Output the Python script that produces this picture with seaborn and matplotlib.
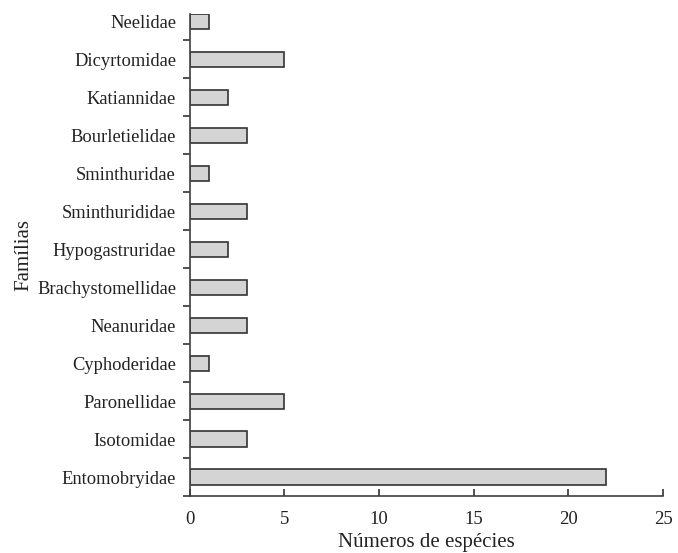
import matplotlib
matplotlib.use("Agg")
import matplotlib.pyplot as plt
import seaborn as sns
import pandas as pd
import numpy as np

familias = [
    "Neelidae", "Dicyrtomidae", "Katiannidae", "Bourletielidae",
    "Sminthuridae", "Sminthurididae", "Hypogastruridae", "Brachystomellidae",
    "Neanuridae", "Cyphoderidae", "Paronellidae", "Isotomidae", "Entomobryidae",
]
especies = [1, 5, 2, 3, 1, 3, 2, 3, 3, 1, 5, 3, 22]

df = pd.DataFrame({"Famílias": familias, "Números de espécies": especies})

sns.set_style("ticks")
plt.rcParams["font.family"] = ["Liberation Serif", "DejaVu Serif"]

fig = plt.figure(figsize=(6.78, 5.53), dpi=100)
ax = fig.add_axes([0.280, 0.103, 0.698, 0.872])

sns.barplot(data=df, y="Famílias", x="Números de espécies", orient="h",
            color="#d4d4d4", edgecolor="#333333", linewidth=1.2,
            width=0.4, saturation=1, ax=ax)

ax.set_xlim(0, 25)
ax.set_ylim(12.5, -0.2)
ax.set_xticks(np.arange(0, 26, 5))
ax.set_yticks(np.arange(len(familias)))
ax.set_yticklabels(familias)
ax.set_yticks(np.arange(len(familias)) + 0.5, minor=True)

ax.tick_params(axis="y", which="major", length=0, labelsize=13.3, pad=10, colors="#222222")
ax.tick_params(axis="y", which="minor", length=5, width=1.2, direction="out", color="#333333")
ax.tick_params(axis="x", which="major", length=5, width=1.2, direction="in",
               labelsize=13.5, pad=11, color="#333333", labelcolor="#222222")

for s in ["top", "right"]:
    ax.spines[s].set_visible(False)
for s in ["left", "bottom"]:
    ax.spines[s].set_color("#404040")
    ax.spines[s].set_linewidth(1.2)

ax.set_xlabel("Números de espécies", fontsize=15, color="#222222")
ax.set_ylabel("Famílias", fontsize=15, color="#222222")
ax.xaxis.set_label_coords(0.5, -0.076)
ax.yaxis.set_label_coords(-0.33, 0.5)

fig.savefig("out.png", dpi=100)
